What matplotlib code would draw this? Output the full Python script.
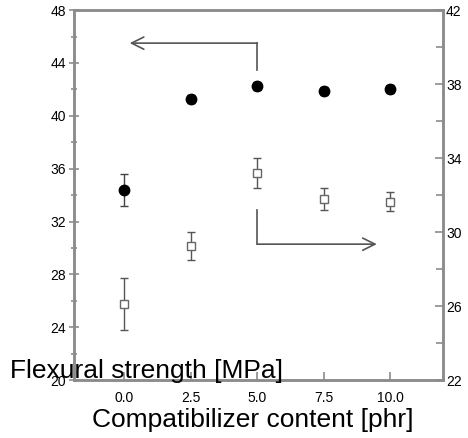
import numpy as np
import matplotlib
matplotlib.use('Agg')
import matplotlib.pyplot as plt

# ------------------------------- data ----------------------------------------
content = [0.0, 2.5, 5.0, 7.5, 10.0]

# flexural strength [MPa], left axis (filled)
strength = [34.4, 41.25, 42.25, 41.9, 42.0]
strength_err = [1.2, 0.3, 0.3, 0.3, 0.3]

# right axis (open)
modulus = [26.1, 29.25, 33.2, 31.8, 31.65]
modulus_err = [1.4, 0.75, 0.8, 0.6, 0.5]

xticks = [0.0, 2.5, 5.0, 7.5, 10.0]
left_ticks = [20, 24, 28, 32, 36, 40, 44, 48]
right_ticks = [22, 26, 30, 34, 38, 42]

# ------------------------------- plotting ------------------------------------
plt.rcParams['font.family'] = ['Liberation Sans', 'DejaVu Sans']
spine_c = '#8c8c8c'

fig = plt.figure(figsize=(4.68, 4.38), dpi=100)
ax = fig.add_axes([0.158, 0.132, 0.789, 0.845])
ax2 = ax.twinx()

ax.errorbar(content, strength, yerr=strength_err, fmt='o', color='black',
            ms=7.5, ecolor='#444444', elinewidth=1, capsize=3, capthick=1, zorder=3)
ax2.errorbar(content, modulus, yerr=modulus_err, fmt='s', mfc='white',
             mec='#666666', color='#666666', ms=6, mew=1,
             ecolor='#555555', elinewidth=1, capsize=3, capthick=1, zorder=3)

ax.set_xlim(-1.9, 12.0)
ax.set_ylim(20, 48)
ax2.set_ylim(22, 42)

ax.set_xticks(xticks)
ax.set_xticklabels(['%.1f' % v for v in xticks])
ax.set_yticks(left_ticks)
ax.set_yticks(np.arange(22, 48, 4), minor=True)
ax2.set_yticks(right_ticks)
ax2.set_yticks(np.arange(24, 42, 4), minor=True)

for a in (ax, ax2):
    for s in a.spines.values():
        s.set_color(spine_c)
        s.set_linewidth(1.8)
ax.tick_params(axis='y', direction='inout', length=7, width=1.2, color=spine_c,
               labelsize=10, pad=2)
ax.tick_params(axis='y', which='minor', direction='inout', length=5, width=1.2, color=spine_c)
ax.tick_params(axis='x', direction='in', length=6, width=1.2, color=spine_c,
               labelsize=10, pad=8)
ax2.tick_params(axis='y', direction='in', length=6, width=1.2, color=spine_c,
                labelsize=10, pad=2)
ax2.tick_params(axis='y', which='minor', direction='in', length=5, width=1.2, color=spine_c)

# arrows pointing to the axes
ax.annotate('', xy=(0.2, 45.5), xytext=(5.0, 45.5),
            arrowprops=dict(arrowstyle='->', color='#555555', lw=1.2,
                            mutation_scale=22, shrinkA=0, shrinkB=0))
ax.plot([5.0, 5.0], [45.5, 43.5], color='#555555', lw=1.2)
ax2.annotate('', xy=(9.5, 29.35), xytext=(5.0, 29.35),
             arrowprops=dict(arrowstyle='->', color='#555555', lw=1.2,
                             mutation_scale=22, shrinkA=0, shrinkB=0))
ax2.plot([5.0, 5.0], [31.2, 29.35], color='#555555', lw=1.2)

fig.text(0.021, 0.152, 'Flexural strength [MPa]', fontsize=19, va='center', ha='left')
fig.text(0.54, 0.042, 'Compatibilizer content [phr]', fontsize=19, va='center', ha='center')

fig.savefig('out.png', dpi=100)
